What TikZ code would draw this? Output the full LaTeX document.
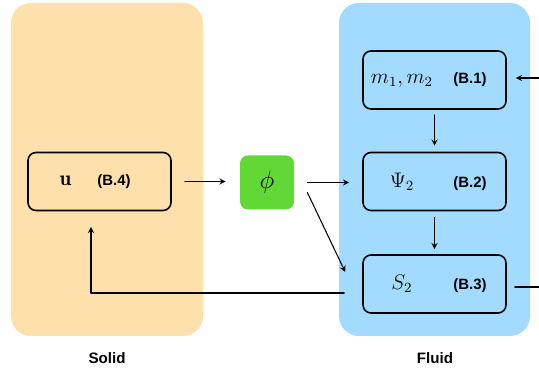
\documentclass[tikz,border=0pt]{standalone}
\usepackage{fontspec}
\newfontfamily\labelfont{Liberation Sans}
\usetikzlibrary{positioning}
\definecolor{solidbg}{HTML}{FDE0AB}
\definecolor{fluidbg}{HTML}{A2DBFE}
\definecolor{phigreen}{HTML}{62D836}
\newcommand{\eqtag}[1]{{\labelfont\bfseries\fontsize{8.5}{10}\selectfont #1}}
\newcommand{\eqline}[2]{\makebox[1.56cm]{#1}\makebox[1.16cm]{\eqtag{#2}}\makebox[0.14cm]{}}
\tikzset{
  eqbox/.style={draw,line width=0.9pt,rounded corners=0.16cm,minimum width=2.86cm,
    minimum height=1.16cm,inner sep=0pt,font=\large},
  paneltag/.style={font=\labelfont\bfseries\fontsize{8.6}{10}\selectfont},
  flow/.style={->,line width=0.6pt},
}

\begin{document}
\begin{tikzpicture}[line cap=round,line join=round,x=1.0cm,y=1.0cm,>=stealth]
\useasboundingbox (0,0) rectangle (10.78,7.4);

% panels
\fill[solidbg,rounded corners=0.4cm] (0.22,0.68) rectangle (4.06,7.34);
\fill[fluidbg,rounded corners=0.4cm] (6.78,0.68) rectangle (10.6,7.34);
\node[paneltag] (solid) at (2.14,0.24) {Solid};
\node[paneltag] (fluid) at (8.7,0.24) {Fluid};

% equations
\node[eqbox] (u) at (1.99,3.77) {\makebox[1.5cm]{$\mathbf{u}$}\makebox[0.44cm]{\eqtag{(B.4)}}\makebox[0.92cm]{}};
\node[fill=phigreen,rounded corners=0.16cm,minimum size=1.08cm,font=\Large] (phi) at (5.34,3.75) {$\phi$};
\node[eqbox] (mm) at (8.69,5.8) {\eqline{$m_1,m_2$}{(B.1)}};
\node[eqbox] (psi) at (8.69,3.77) {\eqline{$\Psi_2$}{(B.2)}};
\node[eqbox] (s2) at (8.69,1.72) {\eqline{$S_2$}{(B.3)}};

\coordinate (inB1) at (10.78,5.84);
\coordinate (outB3) at (10.78,1.66);

% connectors
\draw[flow,shorten <=0.26cm,shorten >=0.28cm] (u.east) -- (u.east -| phi.west);
\draw[flow,shorten <=0.26cm,shorten >=0.26cm] (phi.east) -- (phi.east -| psi.west);
\draw[flow] ([xshift=0.26cm,yshift=-0.2cm]phi.east) -- ([xshift=-0.34cm,yshift=0.24cm]s2.west);
\draw[flow,shorten <=0.1cm,shorten >=0.12cm] (mm.south) -- (psi.north);
\draw[flow,shorten <=0.12cm,shorten >=0.1cm] (psi.south) -- (s2.north);
\draw[flow,shorten >=0.18cm] (inB1) -- (inB1 -| mm.east);
\draw[line width=0.6pt,shorten <=0.16cm] (outB3 -| s2.east) -- (outB3);
\draw[flow] ([xshift=-0.36cm,yshift=-0.18cm]s2.west) -| ([xshift=-0.17cm,yshift=-0.31cm]u.south);
\end{tikzpicture}
\end{document}
